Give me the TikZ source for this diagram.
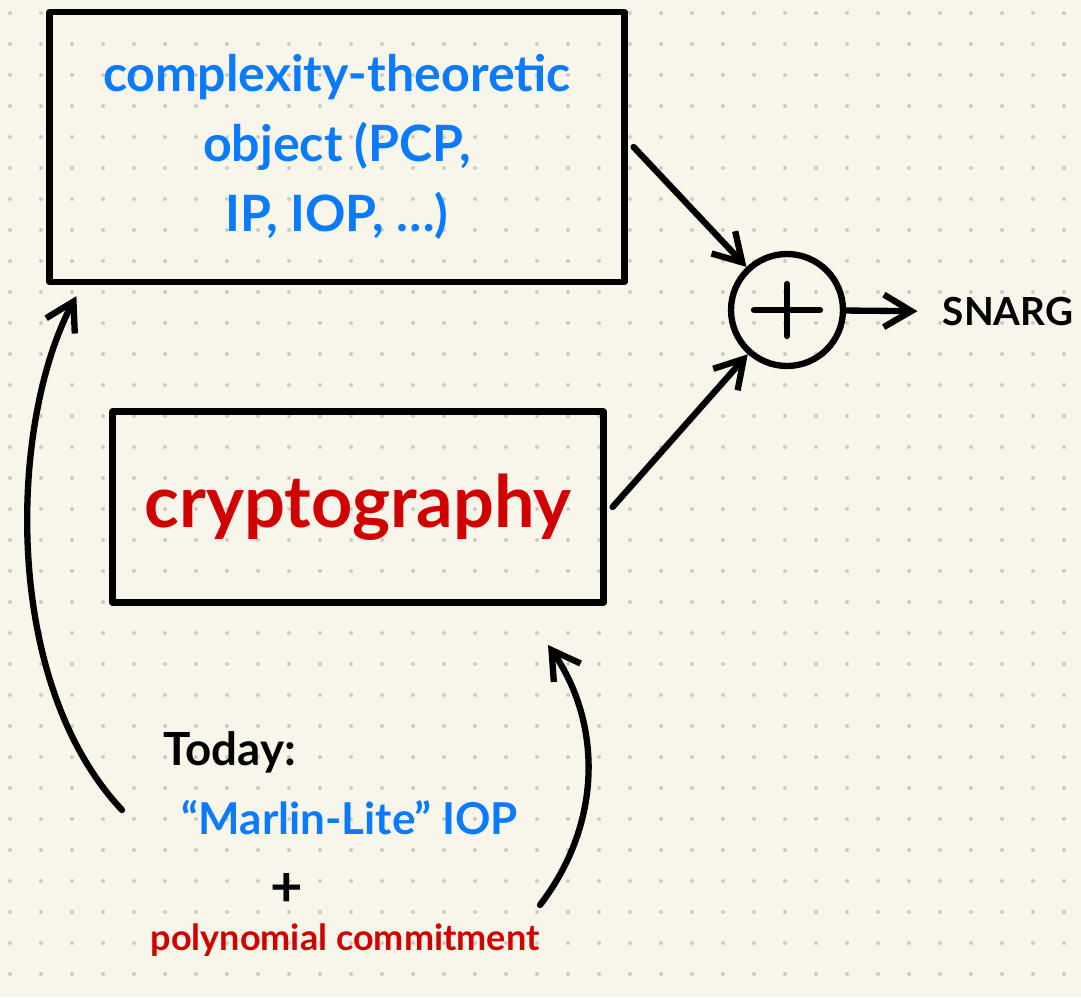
\documentclass[tikz,border=0pt]{standalone}
\usepackage{fontspec}
\setmainfont{Lato}
\usepackage{tikz}
\usetikzlibrary{calc,arrows.meta}
\definecolor{paper}{HTML}{F8F6EB}
\definecolor{grid}{HTML}{CDCCC4}
\definecolor{ink}{HTML}{000000}
\definecolor{penblue}{HTML}{0A7BFF}
\definecolor{penred}{HTML}{D00000}
\tikzset{
  line/.style={draw=ink, line width=3.6pt, line cap=round, line join=round},
  arr/.style={line, -{Straight Barb[length=5.5mm, width=6.5mm]}},
  box/.style={line, rectangle, inner sep=0pt},
  blbl/.style={text=penblue, align=center},
  rlbl/.style={text=penred, align=center},
  klbl/.style={text=ink, align=center}
}

\begin{document}
\begin{tikzpicture}[x=0.02cm, y=-0.02cm]
  \fill[paper] (0,0) rectangle (1081,997);
  \useasboundingbox (0,0) rectangle (1081,997);
  \foreach \i in {0,...,34}
    \foreach \j in {0,...,31}
      \fill[grid] (10+31*\i, 13+31*\j) circle (2);

  \node[box, blbl, minimum width=11.5cm, minimum height=5.4cm,
        font=\fontsize{28.5}{40}\selectfont\bfseries] (theory) at (337,147)
        {complexity-theoretic\\object (PCP,\\IP, IOP, \dots)};
  \node[box, rlbl, minimum width=9.82cm, minimum height=3.82cm,
        font=\fontsize{41}{44}\selectfont\bfseries] (crypto) at (358,507) {cryptography};
  \node[line, circle, minimum size=2.24cm] (sum) at (787,310) {};
  \draw[line] ($(sum)+(-33,0)$) -- ($(sum)+(33,0)$);
  \draw[line] ($(sum)+(0,-26)$) -- ($(sum)+(0,26)$);
  \node[klbl, inner xsep=0.5cm, inner ysep=0pt,
        font=\fontsize{22}{24}\selectfont\bfseries] (snarg) at (1008,312) {SNARG};

  \draw[arr] ($(theory.east)+(6,0)$) -- (sum);
  \draw[arr] ($(crypto.east)+(6,0)$) -- (sum);
  \draw[arr] (sum) -- (snarg);

  \node[klbl, font=\fontsize{26}{28}\selectfont\bfseries] (today) at (230,752) {Today:};
  \node[blbl, font=\fontsize{25}{28}\selectfont\bfseries] (marlin) at (350,818)
        {“Marlin-Lite” IOP};
  \node[klbl, font=\fontsize{32}{32}\selectfont\bfseries] (plus) at (287,890) {+};
  \node[rlbl, font=\fontsize{20.5}{26}\selectfont\bfseries] (commit) at (345,940)
        {polynomial commitment};

  \coordinate (leftfoot) at (122,810);
  \coordinate (theoryin) at ($(theory.south west)+(30,11)$);
  \coordinate (rightfoot) at (540,905);
  \coordinate (cryptoin) at (548,645);
  \draw[arr] (leftfoot) .. controls (0,680) and (10,420) .. (theoryin);
  \draw[arr] (rightfoot) .. controls (605,820) and (600,720) .. (cryptoin);
\end{tikzpicture}
\end{document}
